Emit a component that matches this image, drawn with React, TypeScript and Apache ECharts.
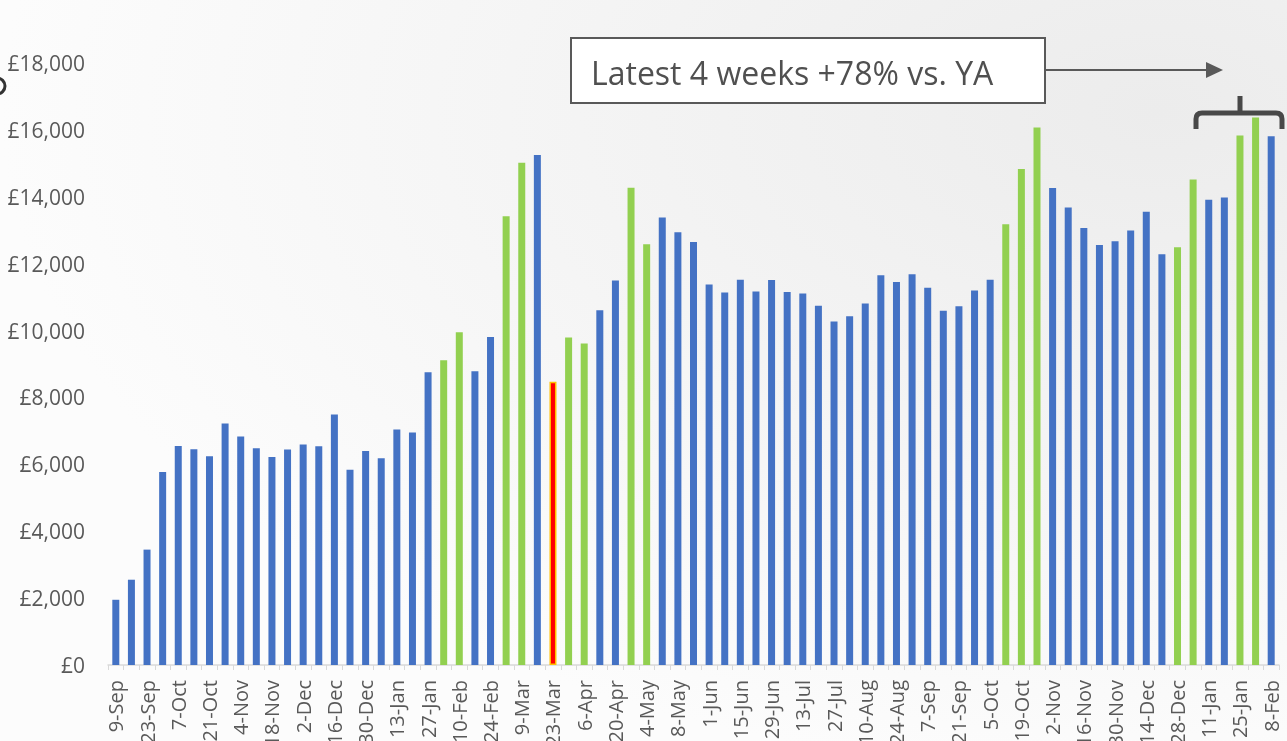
import React, { useEffect, useRef } from "react";
import * as echarts from "echarts";

const weeks = [
  "9-Sep", "16-Sep", "23-Sep", "30-Sep", "7-Oct", "14-Oct", "21-Oct", "28-Oct",
  "4-Nov", "11-Nov", "18-Nov", "25-Nov", "2-Dec", "9-Dec", "16-Dec", "23-Dec",
  "30-Dec", "6-Jan", "13-Jan", "20-Jan", "27-Jan", "3-Feb", "10-Feb", "17-Feb",
  "24-Feb", "2-Mar", "9-Mar", "16-Mar", "23-Mar", "30-Mar", "6-Apr", "13-Apr",
  "20-Apr", "27-Apr", "4-May", "11-May", "18-May", "25-May", "1-Jun", "8-Jun",
  "15-Jun", "22-Jun", "29-Jun", "6-Jul", "13-Jul", "20-Jul", "27-Jul", "3-Aug",
  "10-Aug", "17-Aug", "24-Aug", "31-Aug", "7-Sep", "14-Sep", "21-Sep", "28-Sep",
  "5-Oct", "12-Oct", "19-Oct", "26-Oct", "2-Nov", "9-Nov", "16-Nov", "23-Nov",
  "30-Nov", "7-Dec", "14-Dec", "21-Dec", "28-Dec", "4-Jan", "11-Jan", "18-Jan",
  "25-Jan", "1-Feb", "8-Feb",
];

const sales = [
  1950, 2550, 3450, 5770, 6550, 6450, 6240, 7220,
  6830, 6480, 6220, 6440, 6590, 6540, 7490, 5840,
  6400, 6180, 7040, 6950, 8750, 9110, 9950, 8780,
  9810, 13420, 15020, 15250, 8470, 9790, 9610, 10610,
  11500, 14270, 12580, 13380, 12940, 12650, 11380, 11140,
  11520, 11170, 11510, 11150, 11110, 10740, 10270, 10430,
  10810, 11650, 11450, 11680, 11280, 10590, 10730, 11200,
  11520, 13180, 14830, 16070, 14260, 13680, 13070, 12560,
  12670, 12990, 13550, 12280, 12490, 14520, 13910, 13980,
  15830, 16370, 15810,
];

const promoWeeks = [
  "3-Feb", "10-Feb", "2-Mar", "9-Mar", "30-Mar", "6-Apr", "27-Apr", "4-May",
  "12-Oct", "19-Oct", "26-Oct", "28-Dec", "4-Jan", "25-Jan", "1-Feb",
];
const lockdownWeeks = ["23-Mar"];

const yTicks = { min: 0, max: 18000, interval: 2000 };
const calloutText = "Latest 4 weeks +78% vs. YA";

const BLUE = "#4472C4";
const GREEN = "#92D050";
const RED = "#FF0000";
const GREY_TEXT = "#595959";
const FONT = "'Open Sans', 'Noto Sans', sans-serif";

echarts.graphic.registerShape(
  "brace",
  echarts.graphic.extendPath(
    "M1196,129 L1196,119 Q1196,113 1202,113 L1276,113 Q1282,113 1282,119 L1282,129 M1240,113 L1240,96",
    {}
  )
);

export default function App() {
  const ref = useRef<HTMLDivElement>(null);

  useEffect(() => {
    if (!ref.current) return;
    const chart = echarts.init(ref.current, undefined, { renderer: "svg" });

    const data = weeks.map((w, i) => {
      const isRed = lockdownWeeks.includes(w);
      const isGreen = promoWeeks.includes(w);
      return {
        value: sales[i],
        itemStyle: isRed
          ? { color: RED, borderColor: "#FFC000", borderWidth: 1.5 }
          : { color: isGreen ? GREEN : BLUE },
      };
    });

    chart.setOption({
      animation: false,
      backgroundColor: {
        type: "radial",
        x: 0.9,
        y: 0.15,
        r: 0.9,
        colorStops: [
          { offset: 0, color: "#ececec" },
          { offset: 1, color: "#fcfcfc" },
        ],
      },
      grid: {
        left: 108,
        right: 8,
        top: 63,
        bottom: 76,
        containLabel: false,
        outerBoundsMode: "none",
      },
      xAxis: {
        type: "category",
        data: weeks,
        boundaryGap: true,
        axisLine: { lineStyle: { color: "#d9d9d9", width: 1.5 } },
        axisTick: {
          show: true,
          interval: 0,
          alignWithLabel: false,
          length: 5,
          lineStyle: { color: "#d9d9d9" },
        },
        axisLabel: {
          interval: 1,
          rotate: 90,
          color: GREY_TEXT,
          fontSize: 20,
          fontFamily: FONT,
          margin: 15,
        },
      },
      yAxis: {
        type: "value",
        min: yTicks.min,
        max: yTicks.max,
        interval: yTicks.interval,
        splitLine: { show: false },
        axisLine: { show: false },
        axisTick: { show: false },
        axisLabel: {
          color: GREY_TEXT,
          fontSize: 21,
          fontFamily: FONT,
          margin: 23,
          formatter: (v: number) => "£" + v.toLocaleString("en-GB"),
        },
      },
      series: [
        {
          type: "bar",
          data,
          barWidth: 7,
        },
      ],
      graphic: [
        {
          type: "rect",
          shape: { x: 571, y: 38, width: 474, height: 65 },
          style: { fill: "#ffffff", stroke: GREY_TEXT, lineWidth: 2 },
          z: 10,
        },
        {
          type: "text",
          x: 591,
          y: 72,
          style: {
            text: calloutText,
            fill: "#505050",
            font: `32px ${FONT}`,
            verticalAlign: "middle",
          },
          z: 11,
        },
        {
          type: "line",
          shape: { x1: 1046, y1: 70, x2: 1208, y2: 70 },
          style: { stroke: GREY_TEXT, lineWidth: 2 },
          z: 10,
        },
        {
          type: "polygon",
          shape: { points: [[1206, 62], [1223, 70], [1206, 78]] },
          style: { fill: GREY_TEXT },
          z: 10,
        },
        {
          type: "brace",
          x: 0,
          y: 0,
          style: { fill: "none", stroke: "#484848", lineWidth: 5 },
          z: 10,
        },
        {
          type: "arc",
          shape: { cx: -3, cy: 86, r: 8, startAngle: -Math.PI / 2, endAngle: Math.PI / 2 },
          style: { stroke: "#333333", lineWidth: 3, fill: "none" },
          z: 10,
        },
      ],
    });

    return () => chart.dispose();
  }, []);

  return (
    <div
      ref={ref}
      style={{ position: "fixed", left: 0, top: 0, width: 1287, height: 741 }}
    />
  );
}
